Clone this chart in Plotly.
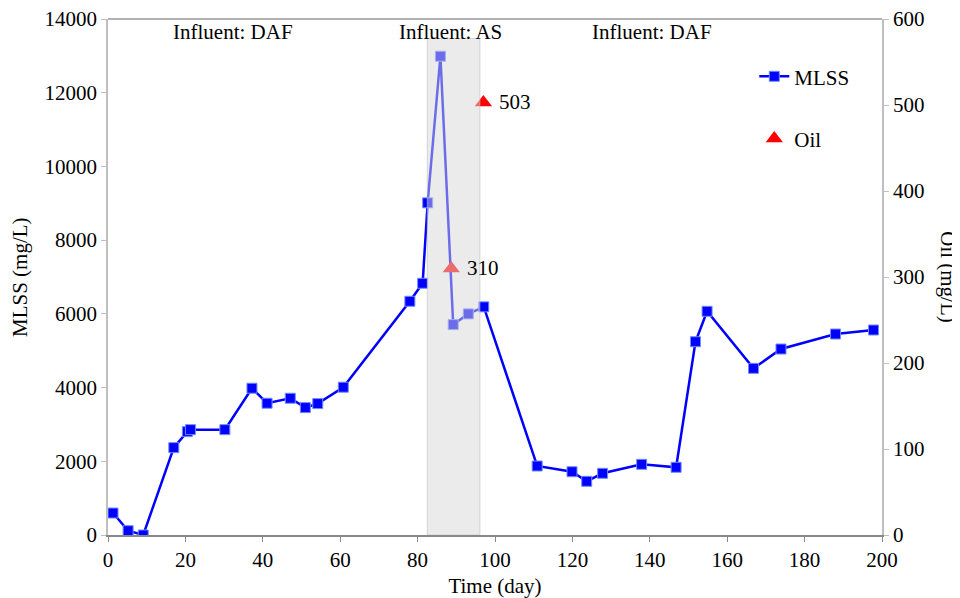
import plotly.graph_objects as go

day = [1.3, 5.2, 9.1, 17, 20.5, 21.3, 30.2, 37.2, 41.1, 47.1, 51, 54.2, 60.8, 78, 81.3, 82.6,
       85.9, 89.2, 93.1, 97.1, 110.9, 119.9, 123.7, 127.8, 137.9, 146.8, 151.8, 154.8, 166.8,
       173.9, 188, 197.8]
mlss = [596, 117, 0, 2370, 2804, 2858, 2858, 3982, 3575, 3710, 3456, 3565, 4010, 6341, 6830, 9012,
        12990, 5709, 5999, 6190, 1872, 1717, 1457, 1674, 1918, 1837, 5244, 6069, 4522,
        5046, 5453, 5562]
oil_day = [88.7, 97.0]
oil = [310, 503]
oil_labels = ["310", "503"]
phase_labels = ["Influent: DAF", "Influent: AS", "Influent: DAF"]
phase_x = [32.3, 88.6, 140.6]
as_start, as_end = 82.5, 96.1

FONT = "Liberation Serif"
FS = 21
AX = "#bfbfbf"

fig = go.Figure()
fig.add_trace(go.Scatter(
    x=day, y=mlss, mode="lines+markers", name="MLSS",
    line=dict(color="#0000ff", width=2.5),
    marker=dict(symbol="square", size=10, color="#0000ff", line=dict(color="#6f8cff", width=1)),
    legendgroup="a",
))
fig.add_trace(go.Scatter(
    x=oil_day, y=oil, mode="markers", name="Oil", yaxis="y2",
    marker=dict(symbol="triangle-up", size=15, color="#ff0000"),
    legendgroup="b",
))

fig.add_shape(type="rect", xref="x", yref="y", x0=as_start, x1=as_end, y0=0, y1=13470,
              fillcolor="rgba(215,215,215,0.5)", line=dict(color="rgba(190,190,190,0.6)", width=1),
              layer="above")

for lab, xx, yy in zip(oil_labels, oil_day, oil):
    fig.add_annotation(x=xx, y=yy, xref="x", yref="y2", text=lab, showarrow=False,
                       xanchor="left", xshift=14, font=dict(family=FONT, size=FS, color="#000000"))

for lab, xx in zip(phase_labels, phase_x):
    fig.add_annotation(x=xx, y=1, xref="x", yref="paper", yanchor="top", text=lab,
                       showarrow=False, font=dict(family=FONT, size=FS, color="#000000"), yshift=1)

fig.add_annotation(x=1.085, y=0.5, xref="paper", yref="paper", text="Oil (mg/L)", textangle=90,
                   showarrow=False, xanchor="center", yanchor="middle",
                   font=dict(family=FONT, size=FS, color="#000000"))
fig.add_annotation(x=-0.1137, y=0.5, xref="paper", yref="paper", text="MLSS (mg/L)", textangle=-90,
                   showarrow=False, xanchor="center", yanchor="middle",
                   font=dict(family=FONT, size=FS, color="#000000"))

fig.update_layout(
    width=952, height=590,
    margin=dict(l=100, r=78, t=11, b=63, autoexpand=False),
    paper_bgcolor="white", plot_bgcolor="white",
    font=dict(family=FONT, size=FS, color="#000000"),
    showlegend=True,
    legend=dict(x=0.835, y=0.928, xanchor="left", yanchor="top", bgcolor="rgba(0,0,0,0)",
                font=dict(family=FONT, size=FS), tracegroupgap=32, itemwidth=30),
    xaxis=dict(range=[0, 200], tickvals=list(range(0, 201, 20)), showgrid=False, zeroline=False,
               showline=True, linecolor="#888888", linewidth=1.5, ticks="outside", ticklen=5,
               tickcolor="#888888", tickfont=dict(size=FS), automargin=False,
               ticklabeloverflow="allow",
               title=dict(text="Time (day)", font=dict(family=FONT, size=FS), standoff=12)),
    yaxis=dict(range=[0, 14000], tickvals=list(range(0, 14001, 2000)), tickformat="d",
               showgrid=False, zeroline=False, automargin=False, ticklabeloverflow="allow",
               showline=True, linecolor=AX, linewidth=1.5, ticks="outside", ticklen=5, tickcolor=AX,
               tickfont=dict(size=FS)),
    yaxis2=dict(range=[0, 600], tickvals=list(range(0, 601, 100)), overlaying="y", side="right",
                showgrid=False, zeroline=False, showline=True, linecolor=AX, linewidth=1.5,
                ticks="outside", ticklen=5, tickcolor=AX, tickfont=dict(size=FS), automargin=False,
                ticklabeloverflow="allow"),
)
fig.add_shape(type="line", xref="paper", yref="paper", x0=0, x1=1, y0=1, y1=1,
              line=dict(color="#999999", width=1.5), layer="above")

fig.write_html("out.html")
